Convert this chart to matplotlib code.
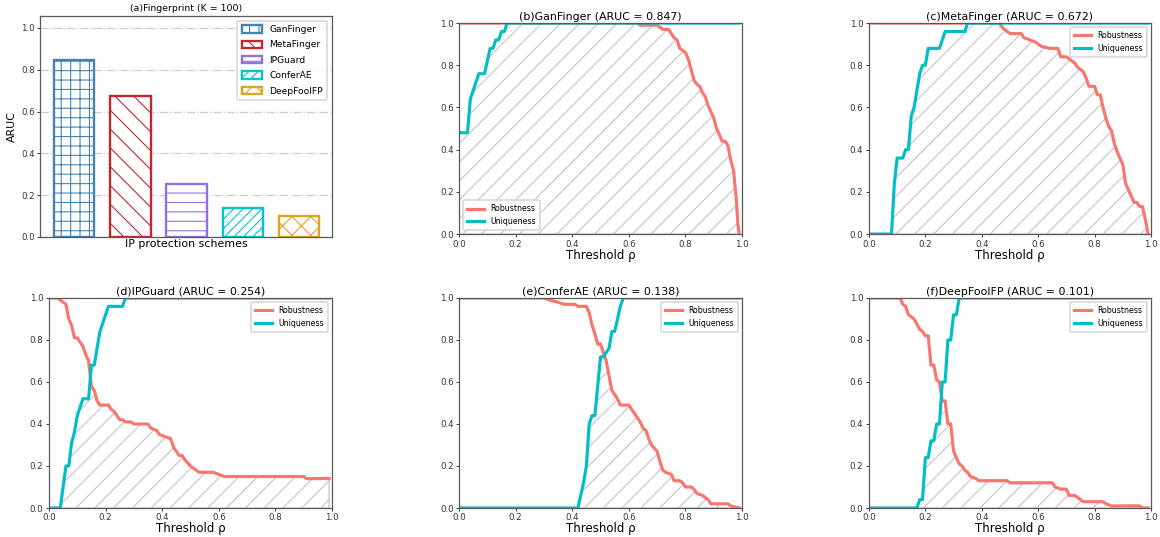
import numpy as np
import matplotlib
matplotlib.use("Agg")
import matplotlib.pyplot as plt

# ---- data ----
schemes = ["GanFinger", "MetaFinger", "IPGuard", "ConferAE", "DeepFoolFP"]
aruc = [0.847, 0.672, 0.254, 0.138, 0.101]
bar_colors = ["#4682B4", "#C0282D", "#9370DB", "#00C5CD", "#DAA520"]
bar_hatches = ["++", "\\\\", "--", "////", "xx"]

# (b) GanFinger
gan_rob_x = [0.0, 0.63, 0.64, 0.70, 0.72, 0.74, 0.76, 0.77, 0.78, 0.80, 0.81, 0.82, 0.83,
             0.84, 0.85, 0.86, 0.87, 0.88, 0.89, 0.90, 0.91, 0.92, 0.93, 0.94, 0.95, 0.96,
             0.97, 0.98, 0.985, 0.99]
gan_rob_y = [1.0, 1.0, 0.99, 0.99, 0.97, 0.97, 0.93, 0.92, 0.88, 0.86, 0.83, 0.78, 0.73,
             0.71, 0.70, 0.67, 0.65, 0.61, 0.58, 0.55, 0.50, 0.47, 0.44, 0.44, 0.42, 0.35,
             0.30, 0.16, 0.05, 0.0]
gan_uni_x = [0.0, 0.03, 0.04, 0.07, 0.09, 0.11, 0.12, 0.13, 0.14, 0.15, 0.16, 0.17, 0.99]
gan_uni_y = [0.48, 0.48, 0.64, 0.76, 0.76, 0.88, 0.88, 0.92, 0.92, 0.96, 0.96, 1.0, 1.0]

# (c) MetaFinger
meta_rob_x = [0.0, 0.46, 0.48, 0.50, 0.54, 0.55, 0.57, 0.59, 0.61, 0.64, 0.67, 0.68, 0.70,
              0.71, 0.73, 0.74, 0.76, 0.77, 0.78, 0.80, 0.81, 0.82, 0.83, 0.84, 0.85, 0.86,
              0.87, 0.88, 0.90, 0.91, 0.92, 0.93, 0.94, 0.95, 0.96, 0.97, 0.98, 0.99]
meta_rob_y = [1.0, 1.0, 0.97, 0.95, 0.95, 0.93, 0.92, 0.91, 0.89, 0.88, 0.88, 0.84, 0.84,
              0.83, 0.81, 0.79, 0.77, 0.74, 0.70, 0.70, 0.66, 0.66, 0.60, 0.55, 0.51, 0.49,
              0.43, 0.39, 0.33, 0.24, 0.21, 0.18, 0.15, 0.15, 0.13, 0.13, 0.07, 0.0]
meta_uni_x = [0.0, 0.08, 0.09, 0.10, 0.12, 0.13, 0.14, 0.15, 0.16, 0.18, 0.19, 0.20, 0.21,
              0.25, 0.27, 0.34, 0.35, 0.99]
meta_uni_y = [0.0, 0.0, 0.24, 0.36, 0.36, 0.40, 0.40, 0.56, 0.60, 0.76, 0.80, 0.80, 0.88,
              0.88, 0.96, 0.96, 1.0, 1.0]

# (d) IPGuard
ipg_rob_x = [0.0, 0.03, 0.04, 0.06, 0.07, 0.08, 0.09, 0.10, 0.11, 0.12, 0.13, 0.14, 0.15,
             0.16, 0.17, 0.18, 0.21, 0.22, 0.23, 0.24, 0.25, 0.26, 0.27, 0.29, 0.30, 0.35,
             0.36, 0.38, 0.39, 0.41, 0.43, 0.44, 0.46, 0.47, 0.48, 0.50, 0.52, 0.53, 0.58,
             0.60, 0.62, 0.90, 0.91, 0.99]
ipg_rob_y = [1.0, 1.0, 0.99, 0.97, 0.90, 0.87, 0.81, 0.81, 0.79, 0.77, 0.73, 0.70, 0.58,
             0.56, 0.51, 0.49, 0.49, 0.47, 0.46, 0.44, 0.42, 0.42, 0.41, 0.41, 0.40, 0.40,
             0.38, 0.37, 0.35, 0.34, 0.33, 0.29, 0.25, 0.25, 0.23, 0.20, 0.18, 0.17, 0.17,
             0.16, 0.15, 0.15, 0.14, 0.14]
ipg_uni_x = [0.0, 0.04, 0.05, 0.06, 0.07, 0.08, 0.09, 0.10, 0.11, 0.12, 0.14, 0.15, 0.16,
             0.17, 0.18, 0.19, 0.20, 0.21, 0.26, 0.27, 0.99]
ipg_uni_y = [0.0, 0.0, 0.10, 0.20, 0.20, 0.31, 0.36, 0.44, 0.48, 0.52, 0.52, 0.68, 0.68,
             0.76, 0.84, 0.88, 0.92, 0.96, 0.96, 1.0, 1.0]

# (e) ConferAE
cae_rob_x = [0.0, 0.30, 0.32, 0.35, 0.37, 0.41, 0.42, 0.45, 0.46, 0.47, 0.48, 0.49, 0.50,
             0.51, 0.52, 0.53, 0.54, 0.55, 0.56, 0.57, 0.60, 0.61, 0.63, 0.64, 0.65, 0.66,
             0.67, 0.68, 0.70, 0.71, 0.72, 0.73, 0.75, 0.76, 0.78, 0.79, 0.80, 0.82, 0.83,
             0.84, 0.86, 0.88, 0.89, 0.95, 0.96, 0.99]
cae_rob_y = [1.0, 1.0, 0.99, 0.98, 0.97, 0.97, 0.96, 0.96, 0.93, 0.87, 0.83, 0.78, 0.78,
             0.74, 0.70, 0.63, 0.56, 0.54, 0.52, 0.49, 0.49, 0.47, 0.43, 0.41, 0.38, 0.37,
             0.33, 0.30, 0.27, 0.22, 0.18, 0.17, 0.16, 0.13, 0.13, 0.12, 0.10, 0.10, 0.09,
             0.07, 0.06, 0.04, 0.02, 0.02, 0.01, 0.0]
cae_uni_x = [0.0, 0.42, 0.43, 0.44, 0.45, 0.46, 0.47, 0.48, 0.49, 0.50, 0.51, 0.53, 0.54,
             0.55, 0.57, 0.58, 0.59, 0.99]
cae_uni_y = [0.0, 0.0, 0.06, 0.12, 0.20, 0.40, 0.44, 0.44, 0.58, 0.72, 0.72, 0.76, 0.84,
             0.84, 0.96, 1.0, 1.0, 1.0]

# (f) DeepFoolFP
dff_rob_x = [0.0, 0.11, 0.12, 0.13, 0.14, 0.15, 0.16, 0.18, 0.19, 0.20, 0.21, 0.22, 0.23,
             0.24, 0.25, 0.26, 0.27, 0.28, 0.29, 0.30, 0.31, 0.32, 0.33, 0.34, 0.35, 0.36,
             0.38, 0.39, 0.49, 0.50, 0.65, 0.66, 0.68, 0.70, 0.71, 0.73, 0.74, 0.76, 0.83,
             0.84, 0.86, 0.96, 0.97, 0.99]
dff_rob_y = [1.0, 1.0, 0.97, 0.96, 0.92, 0.91, 0.90, 0.85, 0.84, 0.82, 0.82, 0.68, 0.68,
             0.61, 0.60, 0.51, 0.51, 0.40, 0.40, 0.27, 0.24, 0.21, 0.20, 0.18, 0.17, 0.15,
             0.14, 0.13, 0.13, 0.12, 0.12, 0.10, 0.09, 0.09, 0.06, 0.06, 0.05, 0.03, 0.03,
             0.02, 0.01, 0.01, 0.0, 0.0]
dff_uni_x = [0.0, 0.17, 0.18, 0.19, 0.20, 0.21, 0.22, 0.23, 0.24, 0.25, 0.26, 0.27, 0.28,
             0.29, 0.30, 0.31, 0.32, 0.99]
dff_uni_y = [0.0, 0.0, 0.04, 0.04, 0.24, 0.24, 0.32, 0.32, 0.40, 0.40, 0.60, 0.60, 0.80,
             0.80, 0.92, 0.92, 1.0, 1.0]

panels = [
    ("(b)GanFinger (ARUC = 0.847)", gan_rob_x, gan_rob_y, gan_uni_x, gan_uni_y, "lower left"),
    ("(c)MetaFinger (ARUC = 0.672)", meta_rob_x, meta_rob_y, meta_uni_x, meta_uni_y, "upper right"),
    ("(d)IPGuard (ARUC = 0.254)", ipg_rob_x, ipg_rob_y, ipg_uni_x, ipg_uni_y, "upper right"),
    ("(e)ConferAE (ARUC = 0.138)", cae_rob_x, cae_rob_y, cae_uni_x, cae_uni_y, "upper right"),
    ("(f)DeepFoolFP (ARUC = 0.101)", dff_rob_x, dff_rob_y, dff_uni_x, dff_uni_y, "upper right"),
]

rob_color = "#F8766D"
uni_color = "#00BFC4"
spine_color = "0.35"

plt.rcParams["hatch.linewidth"] = 0.7

DPI = 113
fig = plt.figure(figsize=(1160 / DPI, 537 / DPI), dpi=DPI)

# axes rectangles in figure fractions
pos_a = [0.0345, 0.5587, 0.2517, 0.4115]
pos_lines = [
    [0.3957, 0.5642, 0.2440, 0.3929],
    [0.7491, 0.5642, 0.2431, 0.3929],
    [0.0422, 0.0540, 0.2440, 0.3911],
    [0.3957, 0.0540, 0.2440, 0.3911],
    [0.7491, 0.0540, 0.2431, 0.3911],
]

# (a) bar chart
ax = fig.add_axes(pos_a)
ax.set_axisbelow(True)
xpos = np.arange(len(schemes))
for i in range(len(schemes)):
    ax.bar(xpos[i], aruc[i], width=0.72, facecolor="white", edgecolor=bar_colors[i],
           hatch=bar_hatches[i], linewidth=1.5, label=schemes[i])
ax.set_xlim(-0.61, 4.59)
ax.set_ylim(0, 1.057)
ax.set_xticks([])
ax.set_yticks([0.0, 0.2, 0.4, 0.6, 0.8, 1.0])
ax.tick_params(axis="y", labelsize=5.5, length=2, width=0.6, colors="0.2", pad=1.5)
ax.yaxis.grid(True, linestyle="-.", color="0.8", linewidth=0.8)
ax.set_title("(a)Fingerprint (K = 100)", fontsize=6, pad=3)
ax.set_xlabel("IP protection schemes", fontsize=7, labelpad=1)
ax.set_ylabel("ARUC", fontsize=7, labelpad=2.5)
ax.legend(loc="upper right", fontsize=5.8, handlelength=2.2, handleheight=0.9,
          borderpad=0.5, labelspacing=0.7)
for s in ax.spines.values():
    s.set_color(spine_color)

# (b)-(f) robustness / uniqueness curves
xs = np.linspace(0, 0.99, 991)
for pos, (title, rx, ry, ux, uy, loc) in zip(pos_lines, panels):
    ax = fig.add_axes(pos)
    lower = np.minimum(np.interp(xs, rx, ry), np.interp(xs, ux, uy))
    ax.fill_between(xs, 0, lower, facecolor="none", edgecolor="#c4c4c4",
                    hatch="//", linewidth=0.8)
    ax.plot(rx, ry, color=rob_color, linewidth=2, label="Robustness")
    ax.plot(ux, uy, color=uni_color, linewidth=2, label="Uniqueness")
    ax.set_xlim(0, 1)
    ax.set_ylim(0, 1)
    ax.set_xticks([0.0, 0.2, 0.4, 0.6, 0.8, 1.0])
    ax.set_yticks([0.0, 0.2, 0.4, 0.6, 0.8, 1.0])
    ax.tick_params(labelsize=5.5, length=2, width=0.6, colors="0.2", pad=1.5)
    ax.set_title(title, fontsize=7, pad=2)
    ax.set_xlabel("Threshold \u03c1", fontsize=7.5, labelpad=0)
    ax.legend(loc=loc, fontsize=5, handlelength=2.2, borderpad=0.5, labelspacing=0.5)
    for s in ax.spines.values():
        s.set_color(spine_color)

fig.savefig("out.png", dpi=DPI)
